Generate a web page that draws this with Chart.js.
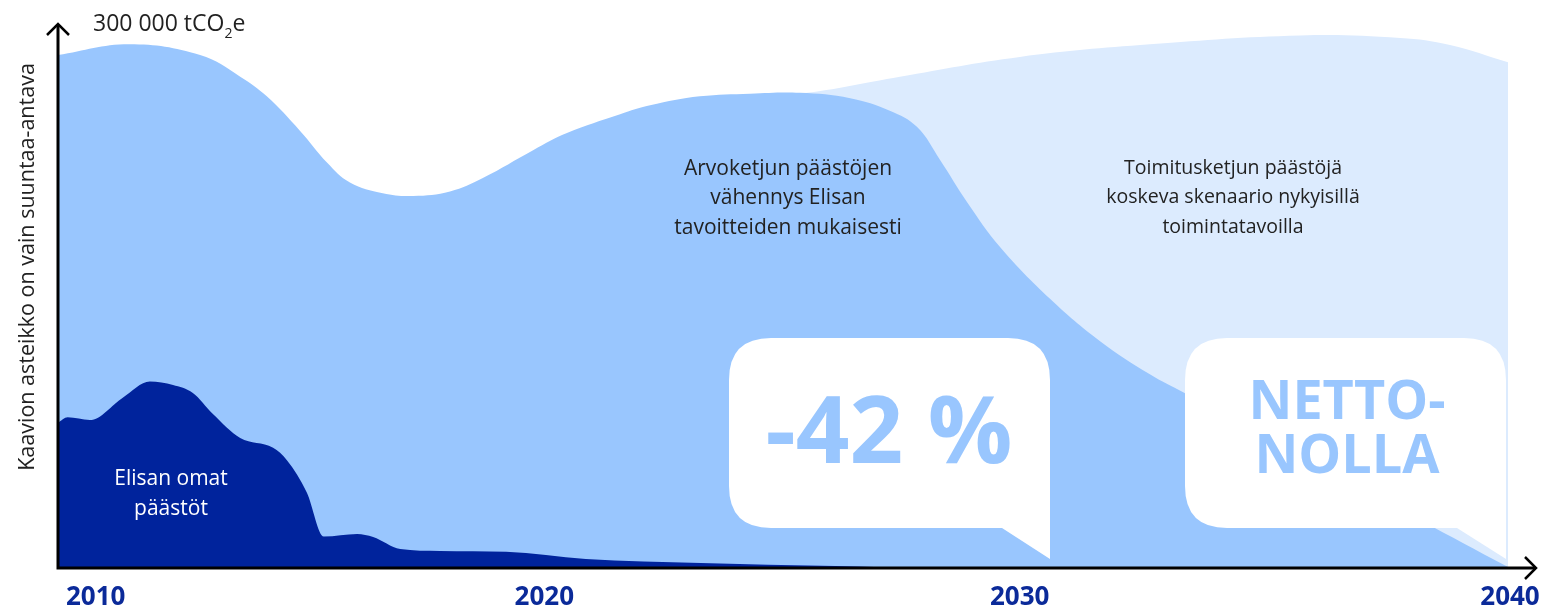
<!DOCTYPE html>
<html lang="fi">
<head>
<meta charset="UTF-8">
<title>Elisan päästöt</title>
<style>
  html, body { margin: 0; padding: 0; background: #fff; }
  #wrap { position: relative; width: 1550px; height: 616px; }
</style>
</head>
<body>
<div id="wrap"><canvas id="chart"></canvas></div>
<script src="https://cdn.jsdelivr.net/npm/chart.js"></script>
<script>
  // values in thousand tCO2e, x in years
  const ownYears = [2010, 2010.2, 2010.66, 2011.34, 2011.9, 2012.38, 2012.79, 2013.2, 2013.77, 2014.45, 2014.74, 2015.15, 2015.5, 2016.19, 2016.52, 2017.08, 2017.9, 2019.27, 2020.92, 2023.3, 2026.08, 2028, 2040];
  const ownValues = [81, 84, 82.5, 95, 104, 102, 97.6, 86, 72.5, 67, 60, 42, 17.5, 19, 17.3, 10.6, 9.5, 9, 5, 2.8, 1.1, 0, 0];

  const chainYears = [2010, 2011.47, 2012.94, 2013.77, 2014.32, 2015.0, 2015.57, 2016.04, 2016.72, 2017.35, 2018.11, 2018.79, 2019.83, 2020.53, 2021.63, 2022.25, 2023.28, 2024.32, 2025.35, 2026.39, 2027.21, 2027.77, 2028.25, 2028.81, 2029.49, 2030.53, 2031.56, 2032.59, 2033.28, 2036.53, 2040];
  const chainValues = [286, 292, 286, 274, 263, 244, 226, 215, 209, 207.5, 210, 217.5, 233, 242.5, 253, 258, 263, 264.5, 265, 262, 255, 246, 227.5, 204, 179, 150, 126.5, 108, 98, 50.6, 0.5];

  const scenarioYears = [2024.3, 2025.5, 2027.42, 2029.9, 2032.59, 2035.7, 2037.77, 2038.8, 2040];
  const scenarioValues = [263, 265, 274, 285, 292, 297, 295.6, 291.7, 282];

  const xTicks = [2010, 2020, 2030, 2040];

  const NAVY = '#00239c';
  const MID = '#99c6fe';
  const LIGHT = '#dcebfe';
  const FONT = '"Open Sans", "Noto Sans", sans-serif';

  const pts = (xs, ys) => xs.map((x, i) => ({ x: x, y: ys[i] }));

  function bubble(ctx, l, t, r, b, rad, tailX) {
    ctx.beginPath();
    ctx.moveTo(l + rad, t);
    ctx.lineTo(r - rad, t);
    ctx.quadraticCurveTo(r, t, r, t + rad);
    ctx.lineTo(r, b + 31);
    ctx.lineTo(tailX, b);
    ctx.lineTo(l + rad, b);
    ctx.quadraticCurveTo(l, b, l, b - rad);
    ctx.lineTo(l, t + rad);
    ctx.quadraticCurveTo(l, t, l + rad, t);
    ctx.closePath();
    ctx.fillStyle = '#fff';
    ctx.fill();
  }

  const decor = {
    id: 'decor',
    afterDatasetsDraw(chart) {
      const ctx = chart.ctx;
      const xs = chart.scales.x, ys = chart.scales.y;
      const x0 = xs.getPixelForValue(2010), y0 = ys.getPixelForValue(0);
      ctx.save();

      // speech bubbles
      bubble(ctx, 729, 338, 1050, 528, 42, 1002);
      bubble(ctx, 1185, 338, 1506, 528, 42, 1457);
      ctx.fillStyle = MID;
      ctx.textAlign = 'center';
      ctx.textBaseline = 'alphabetic';
      ctx.font = 'bold 94px ' + FONT;
      ctx.fillText('-42 %', 889, 463);
      ctx.font = 'bold 54px ' + FONT;
      ctx.fillText('NETTO-', 1347, 419);
      ctx.fillText('NOLLA', 1347, 473);

      // axes with arrow heads
      ctx.strokeStyle = '#000';
      ctx.lineWidth = 3;
      ctx.beginPath();
      ctx.moveTo(x0, 24);
      ctx.lineTo(x0, y0);
      ctx.lineTo(1536, y0);
      ctx.stroke();
      ctx.lineWidth = 2.5;
      ctx.beginPath();
      ctx.moveTo(x0 - 11, 35); ctx.lineTo(x0, 24); ctx.lineTo(x0 + 11, 35);
      ctx.moveTo(1525, y0 - 11); ctx.lineTo(1536, y0); ctx.lineTo(1525, y0 + 11);
      ctx.stroke();

      // year labels
      const shift = [8, 3, -5, 2];
      ctx.fillStyle = '#0b2a99';
      ctx.font = 'bold 26px ' + FONT;
      ctx.textBaseline = 'alphabetic';
      xTicks.forEach((v, i) => {
        ctx.textAlign = i === 0 ? 'left' : 'center';
        ctx.fillText(String(v), xs.getPixelForValue(v) + shift[i], 605);
      });

      // unit label
      ctx.fillStyle = '#222';
      ctx.textAlign = 'left';
      ctx.font = '23px ' + FONT;
      const base = '300 000 tCO';
      ctx.fillText(base, 93, 31);
      const w = ctx.measureText(base).width;
      ctx.font = '14px ' + FONT;
      ctx.fillText('2', 93 + w, 38);
      const w2 = ctx.measureText('2').width;
      ctx.font = '23px ' + FONT;
      ctx.fillText('e', 93 + w + w2, 31);

      // y title
      ctx.save();
      ctx.translate(28, 267);
      ctx.rotate(-Math.PI / 2);
      ctx.textAlign = 'center';
      ctx.textBaseline = 'middle';
      ctx.font = '21.5px ' + FONT;
      ctx.fillText('Kaavion asteikko on vain suuntaa-antava', 0, 0);
      ctx.restore();

      // area notes
      ctx.textAlign = 'center';
      ctx.textBaseline = 'middle';
      ctx.font = '21px ' + FONT;
      ['Arvoketjun päästöjen', 'vähennys Elisan', 'tavoitteiden mukaisesti']
        .forEach((s, i) => ctx.fillText(s, 788, 169 + i * 29.5));
      ctx.font = '19.5px ' + FONT;
      ['Toimitusketjun päästöjä', 'koskeva skenaario nykyisillä', 'toimintatavoilla']
        .forEach((s, i) => ctx.fillText(s, 1233, 168 + i * 29.5));
      ctx.fillStyle = '#fff';
      ctx.font = '21px ' + FONT;
      ['Elisan omat', 'päästöt'].forEach((s, i) => ctx.fillText(s, 171, 479 + i * 30));

      ctx.restore();
    }
  };

  const area = (data, color, mono) => ({
    data: data,
    backgroundColor: color,
    borderWidth: 0,
    borderColor: color,
    fill: 'origin',
    pointRadius: 0,
    tension: 0.4,
    cubicInterpolationMode: mono ? 'monotone' : 'default'
  });

  new Chart(document.getElementById('chart'), {
    type: 'line',
    data: {
      datasets: [
        area(pts(ownYears, ownValues), NAVY, true),
        area(pts(chainYears, chainValues), MID, false),
        area(pts(scenarioYears, scenarioValues), LIGHT, false)
      ]
    },
    options: {
      responsive: true,
      maintainAspectRatio: false,
      animation: false,
      layout: { padding: { left: 58, right: 42, top: 30, bottom: 48 } },
      plugins: { legend: { display: false }, tooltip: { enabled: false } },
      scales: {
        x: { type: 'linear', min: 2010, max: 2040, display: false },
        y: { min: 0, max: 300, display: false }
      }
    },
    plugins: [decor]
  });
</script>
</body>
</html>
